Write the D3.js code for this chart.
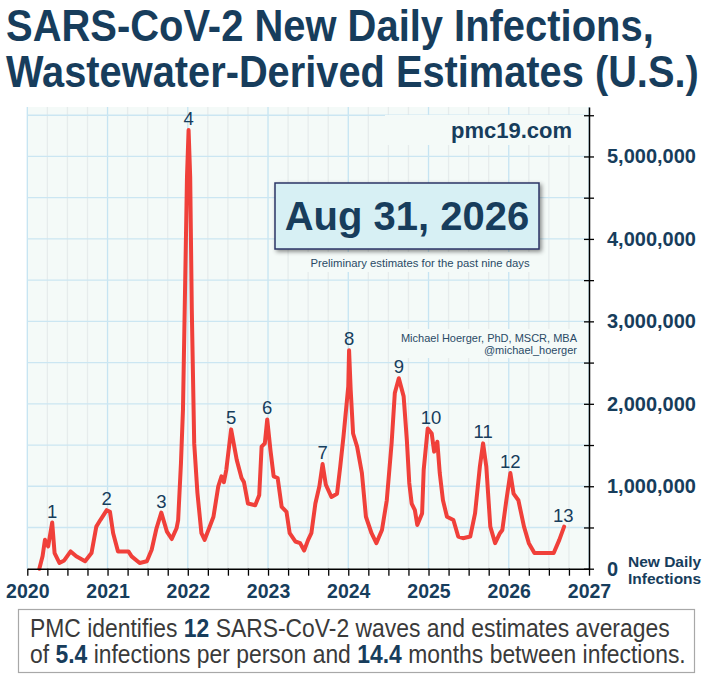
<html>
<head>
<script src="https://d3js.org/d3.v7.min.js"></script>
<style>
  body { margin: 0; background: #fff; }
</style>
</head>
<body>
<svg id="chart" width="708" height="678"></svg>
<script>
// decimal year of each estimate, and new daily infections (millions)
const years = [
  2020.15, 2020.19, 2020.22, 2020.26, 2020.31, 2020.34, 2020.40, 2020.46, 2020.54, 2020.61,
  2020.72, 2020.80, 2020.86, 2020.91, 2020.99, 2021.03, 2021.07, 2021.13, 2021.26, 2021.30,
  2021.40, 2021.49, 2021.55, 2021.61, 2021.67, 2021.74, 2021.80, 2021.86, 2021.88, 2021.915,
  2021.94, 2021.97, 2021.99, 2022.01, 2022.03, 2022.05, 2022.08, 2022.12, 2022.17, 2022.21,
  2022.25, 2022.32, 2022.38, 2022.42, 2022.45, 2022.48, 2022.54, 2022.61, 2022.67, 2022.70,
  2022.75, 2022.84, 2022.89, 2022.92, 2022.96, 2022.99, 2023.03, 2023.07, 2023.12, 2023.17,
  2023.23, 2023.27, 2023.34, 2023.40, 2023.45, 2023.50, 2023.54, 2023.59, 2023.64, 2023.68,
  2023.72, 2023.79, 2023.86, 2023.90, 2023.94, 2024.00, 2024.01, 2024.03, 2024.06, 2024.11,
  2024.17, 2024.22, 2024.29, 2024.35, 2024.42, 2024.48, 2024.54, 2024.58, 2024.63, 2024.69,
  2024.73, 2024.76, 2024.79, 2024.83, 2024.86, 2024.92, 2024.94, 2024.99, 2025.04, 2025.07,
  2025.11, 2025.14, 2025.18, 2025.23, 2025.31, 2025.37, 2025.43, 2025.52, 2025.58, 2025.64,
  2025.68, 2025.72, 2025.77, 2025.83, 2025.89, 2025.92, 2025.97, 2026.02, 2026.06, 2026.12,
  2026.19, 2026.25, 2026.32, 2026.56, 2026.63, 2026.69
]
const infections = [
  0.00, 0.15, 0.35, 0.27, 0.56, 0.19, 0.07, 0.10, 0.21, 0.15,
  0.09, 0.19, 0.51, 0.59, 0.71, 0.69, 0.43, 0.21, 0.21, 0.15,
  0.07, 0.09, 0.23, 0.49, 0.68, 0.45, 0.36, 0.49, 0.59, 1.28,
  1.93, 3.62, 4.75, 5.32, 4.75, 3.14, 1.52, 0.92, 0.43, 0.35,
  0.45, 0.63, 1.00, 1.12, 1.05, 1.20, 1.69, 1.32, 1.10, 1.05,
  0.79, 0.77, 0.89, 1.48, 1.52, 1.81, 1.44, 1.12, 1.10, 0.75,
  0.69, 0.43, 0.33, 0.31, 0.22, 0.35, 0.43, 0.79, 1.00, 1.27,
  1.02, 0.87, 0.91, 1.24, 1.60, 2.21, 2.65, 2.17, 1.64, 1.48,
  1.16, 0.63, 0.43, 0.31, 0.47, 0.83, 1.52, 2.13, 2.31, 2.09,
  1.56, 1.04, 0.79, 0.71, 0.53, 0.67, 1.20, 1.70, 1.64, 1.42,
  1.54, 1.16, 0.83, 0.63, 0.59, 0.39, 0.37, 0.39, 0.67, 1.24,
  1.52, 1.24, 0.51, 0.31, 0.43, 0.47, 0.83, 1.16, 0.91, 0.83,
  0.51, 0.31, 0.19, 0.19, 0.35, 0.51
]

// wave numbers placed over their peaks
const waveNames = ['1','2','3','4','5','6','7','8','9','10','11','12','13']
const waveYears = [2020.31, 2020.99, 2021.67, 2022.01, 2022.54, 2022.99, 2023.68, 2024.01, 2024.63, 2025.03, 2025.68, 2026.02, 2026.68]
const wavePeaks = [0.56, 0.71, 0.68, 5.32, 1.69, 1.81, 1.27, 2.65, 2.31, 1.70, 1.52, 1.16, 0.51]

const yearTicks = [2020, 2021, 2022, 2023, 2024, 2025, 2026, 2027]
const valueTicks = [0, 1e6, 2e6, 3e6, 4e6, 5e6]

const navy = '#173d5c'
const red = '#f0403a'

const svg = d3.select('svg#chart')

const x = d3.scaleLinear().domain([2020, 2027]).range([27.3, 589])
const y = d3.scaleLinear().domain([0, 5.6e6]).range([568.7, 107])

const quarters = d3.range(2020, 2027.001, 0.25)
const halves = d3.range(0, 5.6e6, 5e5)

// squeeze a text horizontally so it spans `width` from its x
function fitWidth(sel, x0, width) {
  const w = sel.node().getComputedTextLength()
  sel.attr('x', 0).attr('transform', `translate(${x0},0) scale(${width / w},1)`)
}

// shadow for the date box
const defs = svg.append('defs')
defs.append('filter').attr('id', 'shadow')
  .attr('x', '-10%').attr('y', '-20%').attr('width', '120%').attr('height', '150%')
  .append('feDropShadow')
  .attr('dx', 2).attr('dy', 2).attr('stdDeviation', 2)
  .attr('flood-color', '#000').attr('flood-opacity', 0.45)

const narrow = '"Liberation Sans Narrow", "Arial Narrow", "Liberation Sans", sans-serif'

// title
const title = svg.append('g').attr('fill', navy)
  .style('font-family', narrow)
  .style('font-weight', 'bold').style('font-size', '44px')
const t1 = title.append('text').attr('y', 41).text('SARS-CoV-2 New Daily Infections,')
fitWidth(t1, 6, 648)
const t2 = title.append('text').attr('y', 87).text('Wastewater-Derived Estimates (U.S.)')
fitWidth(t2, 6, 693)

// plot background and grid
svg.append('rect')
  .attr('x', x(2020)).attr('y', y(5.6e6))
  .attr('width', x(2027) - x(2020)).attr('height', y(0) - y(5.6e6))
  .attr('fill', '#f4faf8')

svg.append('g').attr('class', 'v grid')
  .selectAll('line').data(quarters)
  .join('line')
  .attr('x1', d => x(d)).attr('x2', d => x(d))
  .attr('y1', y(5.6e6)).attr('y2', y(0))
  .attr('stroke', d => Number.isInteger(d) ? '#c6e4f2' : '#e6ecec')
  .attr('stroke-width', 1.3)

svg.append('g').attr('class', 'h grid')
  .selectAll('line').data(halves.filter(d => d > 0))
  .join('line')
  .attr('x1', x(2020)).attr('x2', x(2027))
  .attr('y1', d => y(d)).attr('y2', d => y(d))
  .attr('stroke', '#cbe6f2')
  .attr('stroke-width', 1.3)

// text on the plot, with plot-coloured patches behind
const noteFont = '"Liberation Sans", Arial, sans-serif'

svg.append('rect').attr('x', 385).attr('y', 115).attr('width', 200).attr('height', 30).attr('fill', '#f4faf8')
svg.append('text').attr('x', 572).attr('y', 138)
  .attr('text-anchor', 'end').attr('fill', navy)
  .style('font-family', noteFont).style('font-weight', 'bold').style('font-size', '22px')
  .text('pmc19.com')

svg.append('rect').attr('x', 296).attr('y', 252).attr('width', 250).attr('height', 20).attr('fill', '#f4faf8')
svg.append('rect')
  .attr('x', 275).attr('y', 183).attr('width', 264).attr('height', 66)
  .attr('fill', '#d7f0f4').attr('stroke', '#2b3566').attr('stroke-width', 1.5)
  .attr('filter', 'url(#shadow)')
svg.append('text').attr('x', 407).attr('y', 230)
  .attr('text-anchor', 'middle').attr('fill', navy)
  .style('font-family', noteFont).style('font-weight', 'bold').style('font-size', '40px')
  .text('Aug 31, 2026')
svg.append('text').attr('x', 420).attr('y', 267)
  .attr('text-anchor', 'middle').attr('fill', '#2a4a66')
  .style('font-family', noteFont).style('font-size', '11.3px')
  .text('Preliminary estimates for the past nine days')

svg.append('rect').attr('x', 404).attr('y', 329).attr('width', 178).attr('height', 29).attr('fill', '#f4faf8')
const author = svg.append('g').attr('fill', '#2a4a66')
  .style('font-family', noteFont).style('font-size', '11px')
  .attr('text-anchor', 'end')
author.append('text').attr('x', 577).attr('y', 342).text('Michael Hoerger, PhD, MSCR, MBA')
author.append('text').attr('x', 577).attr('y', 354).text('@michael_hoerger')

// infections line
const line = d3.line()
  .x((d, i) => x(years[i]))
  .y((d, i) => y(infections[i] * 1e6))

svg.append('path')
  .datum(infections)
  .attr('d', line)
  .attr('fill', 'none')
  .attr('stroke', red)
  .attr('stroke-width', 4)
  .attr('stroke-linejoin', 'round')
  .attr('stroke-linecap', 'round')

// wave labels
svg.append('g').selectAll('text').data(waveNames)
  .join('text')
  .attr('x', (d, i) => x(waveYears[i]))
  .attr('y', (d, i) => y(wavePeaks[i] * 1e6) - 5)
  .attr('text-anchor', 'middle')
  .attr('fill', navy)
  .style('font-family', noteFont).style('font-size', '18.5px')
  .text(d => d)

// bottom axis
const xAxis = d3.axisBottom(x)
  .tickValues(quarters)
  .tickSizeInner(7).tickSizeOuter(0).tickPadding(8)
  .tickFormat(d => yearTicks.includes(d) ? d : '')

const gx = svg.append('g')
  .attr('class', 'x axis')
  .attr('transform', `translate(0, ${y(0)})`)
  .call(xAxis)
gx.select('.domain').attr('stroke', '#000').attr('stroke-width', 1.5)
gx.selectAll('.tick line').attr('stroke', '#000').attr('stroke-width', 1.3)
gx.selectAll('text')
  .attr('fill', navy)
  .style('font-family', noteFont).style('font-weight', 'bold').style('font-size', '19.5px')

// right axis
const yAxis = d3.axisRight(y)
  .tickValues(halves)
  .tickSizeInner(5).tickSizeOuter(0).tickPadding(13)
  .tickFormat(d => valueTicks.includes(d) ? d3.format(',')(d) : '')

const gy = svg.append('g')
  .attr('class', 'y axis')
  .attr('transform', `translate(${x(2027)}, 0)`)
  .call(yAxis)
gy.select('.domain').attr('stroke', '#000').attr('stroke-width', 1.5)
gy.selectAll('.tick line').attr('x1', -5).attr('stroke', '#000').attr('stroke-width', 1.3)
gy.selectAll('text')
  .attr('fill', navy)
  .style('font-family', noteFont).style('font-weight', 'bold').style('font-size', '20px')

const yTitle = svg.append('g').attr('fill', navy)
  .style('font-family', noteFont).style('font-weight', 'bold').style('font-size', '15.5px')
yTitle.append('text').attr('x', 628).attr('y', 567).text('New Daily')
yTitle.append('text').attr('x', 628).attr('y', 584).text('Infections')

// summary box
svg.append('rect')
  .attr('x', 18.5).attr('y', 609.5).attr('width', 676).attr('height', 63)
  .attr('fill', '#fff').attr('stroke', '#a8a8a8').attr('stroke-width', 1.2)

const summary = svg.append('g').attr('fill', '#3a3a3a')
  .style('font-family', narrow)
  .style('font-size', '25px')
const s1 = summary.append('text').attr('y', 637)
s1.append('tspan').text('PMC identifies ')
s1.append('tspan').attr('fill', navy).style('font-weight', 'bold').text('12')
s1.append('tspan').text(' SARS-CoV-2 waves and estimates averages')
fitWidth(s1, 30, 640)
const s2 = summary.append('text').attr('y', 663)
s2.append('tspan').text('of ')
s2.append('tspan').attr('fill', navy).style('font-weight', 'bold').text('5.4')
s2.append('tspan').text(' infections per person and ')
s2.append('tspan').attr('fill', navy).style('font-weight', 'bold').text('14.4')
s2.append('tspan').text(' months between infections.')
fitWidth(s2, 30, 656)
</script>
</body>
</html>
